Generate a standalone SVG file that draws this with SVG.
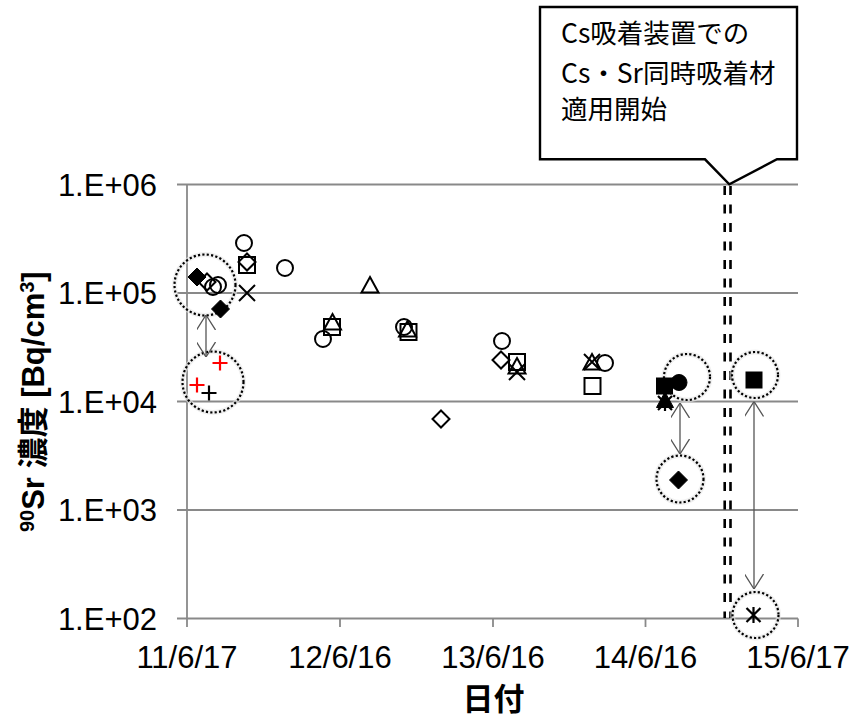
<svg xmlns="http://www.w3.org/2000/svg" xmlns:xlink="http://www.w3.org/1999/xlink" width="855" height="718" viewBox="0 0 855 718">
<style>
.grid{stroke:#898989;stroke-width:1.8;fill:none}
.tick{font-family:"Liberation Sans",Arial,sans-serif;font-size:31px;fill:#000}
.title{font-family:"Liberation Sans","Noto Sans CJK JP",sans-serif;font-size:31px;font-weight:bold;fill:#000}
.call{font-family:"Noto Sans CJK JP",sans-serif;font-size:26.5px;fill:#000}
.op{fill:none;stroke:#000;stroke-width:2}
.fl{fill:#000;stroke:#000;stroke-width:1}
.red{fill:none;stroke:#ff0000;stroke-width:2.2}
.blk{fill:none;stroke:#000;stroke-width:2.2}
.dot{fill:none;stroke:#000;stroke-width:2.2;stroke-dasharray:2.2 2.2}
.halo{fill:none;stroke:#e6e6e6;stroke-width:5;opacity:0.6}
.arr{stroke:#555;stroke-width:1.3;fill:none;marker-start:url(#ah);marker-end:url(#ah)}
.dash{stroke:#000;stroke-width:2.6;stroke-dasharray:9 9.5;fill:none}
</style>
<defs>
<marker id="ah" viewBox="0 0 15 19" refX="15" refY="9.5" markerWidth="15" markerHeight="19" markerUnits="userSpaceOnUse" orient="auto-start-reverse">
<path d="M0,0 L15,9.5 L0,19" fill="none" stroke="#555" stroke-width="1.3"/>
</marker>
<circle id="mc" r="8" class="op"/>
<rect id="ms" x="-8" y="-8" width="16" height="16" class="op"/>
<path id="mt" d="M0,-8 L8.5,7.5 L-8.5,7.5 Z" class="op"/>
<path id="md" d="M0,-8.5 L8.5,0 L0,8.5 L-8.5,0 Z" class="op"/>
<path id="mx" d="M-8,-8 L8,8 M8,-8 L-8,8" class="op"/>
<path id="mpr" d="M-7.5,0 L7.5,0 M0,-7.5 L0,7.5" class="red"/>
<path id="mpb" d="M-7.5,0 L7.5,0 M0,-7.5 L0,7.5" class="blk"/>
<path id="fd" d="M0,-9 L9,0 L0,9 L-9,0 Z" class="fl"/>
<rect id="fs" x="-8" y="-8" width="16" height="16" class="fl"/>
<circle id="fc" r="8" class="fl"/>
<path id="ft" d="M0,-8 L8.5,7.5 L-8.5,7.5 Z" class="fl"/>
<path id="ast" d="M-7,-7 L7,7 M7,-7 L-7,7 M0,-8 L0,8" fill="none" stroke="#000" stroke-width="2.2"/>
</defs>
<rect width="855" height="718" fill="#fff"/>

<g id="axes">
<line class="grid" x1="177" y1="184.5" x2="798" y2="184.5"/>
<line class="grid" x1="177" y1="293" x2="798" y2="293"/>
<line class="grid" x1="177" y1="401.5" x2="798" y2="401.5"/>
<line class="grid" x1="177" y1="510" x2="798" y2="510"/>
<line class="grid" x1="177" y1="618.5" x2="798" y2="618.5"/>
<line class="grid" x1="187" y1="184.5" x2="187" y2="627"/>
<line class="grid" x1="340" y1="618.5" x2="340" y2="627"/>
<line class="grid" x1="493" y1="618.5" x2="493" y2="627"/>
<line class="grid" x1="645.5" y1="618.5" x2="645.5" y2="627"/>
<line class="grid" x1="798" y1="618.5" x2="798" y2="627"/>
</g>

<g id="ylabels" class="tick" text-anchor="end">
<text x="157" y="195.5">1.E+06</text>
<text x="157" y="304">1.E+05</text>
<text x="157" y="412.5">1.E+04</text>
<text x="157" y="521">1.E+03</text>
<text x="157" y="629.5">1.E+02</text>
</g>
<g id="xlabels" class="tick" text-anchor="middle">
<text x="187" y="668">11/6/17</text>
<text x="340" y="668">12/6/16</text>
<text x="493" y="668">13/6/16</text>
<text x="645.5" y="668">14/6/16</text>
<text x="798" y="668">15/6/17</text>
</g>
<text id="xtitle" class="title" x="493.5" y="710" text-anchor="middle" font-size="30">日付</text>
<g id="ytitle" transform="translate(43.5,401.7) rotate(-90)">
<text class="title" x="0" y="0" text-anchor="middle"><tspan font-size="20" dy="-10">90</tspan><tspan dy="10">Sr 濃度 [Bq/cm</tspan><tspan font-size="20" dy="-10">3</tspan><tspan dy="10">]</tspan></text>
</g>

<g id="dashed-line">
<line class="dash" x1="724.7" y1="186" x2="724.7" y2="618"/>
<line class="dash" x1="730.5" y1="186" x2="730.5" y2="618"/>
</g>

<g id="callout">
<path d="M540,7 L797,7 L797,159.3 L777,159.3 L729.3,184.3 L705,159.3 L540,159.3 Z" fill="#fff" stroke="#000" stroke-width="2.4" stroke-linejoin="miter"/>
<text class="call" x="561" y="43">Cs吸着装置での</text>
<text class="call" x="561" y="83">Cs・Sr同時吸着材</text>
<text class="call" x="561" y="119">適用開始</text>
</g>

<g id="highlight-tl-high"><circle class="halo" cx="205" cy="285" r="30.5"/><circle class="dot" cx="205" cy="285" r="30.5"/></g>
<g id="highlight-tl-low"><circle class="halo" cx="213" cy="382" r="30.5"/><circle class="dot" cx="213" cy="382" r="30.5"/></g>
<g id="highlight-r1-high"><circle class="halo" cx="687" cy="377" r="23"/><circle class="dot" cx="687" cy="377" r="23"/></g>
<g id="highlight-r1-low"><circle class="halo" cx="680" cy="479" r="23.5"/><circle class="dot" cx="680" cy="479" r="23.5"/></g>
<g id="highlight-r2-high"><circle class="halo" cx="755" cy="375" r="23"/><circle class="dot" cx="755" cy="375" r="23"/></g>
<g id="highlight-r2-low"><circle class="halo" cx="755.5" cy="615" r="23"/><circle class="dot" cx="755.5" cy="615" r="23"/></g>

<g id="series">
<use href="#fd" x="197" y="277"/>
<use href="#md" x="207" y="282"/>
<use href="#mc" x="213" y="287"/>
<use href="#mc" x="218" y="285"/>
<use href="#fd" x="220.5" y="309"/>
<use href="#mc" x="244" y="243"/>
<use href="#md" x="247" y="262"/>
<use href="#ms" x="247" y="265"/>
<use href="#mx" x="247" y="293"/>
<use href="#mc" x="285" y="268"/>
<use href="#mpr" x="220" y="363"/>
<use href="#mpr" x="197" y="385"/>
<use href="#mpb" x="209" y="393"/>
<use href="#mt" x="370" y="285"/>
<use href="#ms" x="332" y="327"/>
<use href="#mt" x="332.5" y="322"/>
<use href="#mc" x="323" y="339"/>
<use href="#mc" x="404" y="327"/>
<use href="#mt" x="407.5" y="329"/>
<use href="#ms" x="408.5" y="332"/>
<use href="#md" x="441" y="419"/>
<use href="#mc" x="502" y="341"/>
<use href="#md" x="501" y="360"/>
<use href="#ms" x="517" y="362"/>
<use href="#mt" x="517" y="366"/>
<use href="#mx" x="517" y="372"/>
<use href="#mx" x="592" y="362"/>
<use href="#mt" x="592" y="362"/>
<use href="#mc" x="605" y="363"/>
<use href="#ms" x="592.5" y="386"/>
<use href="#fs" x="664.5" y="386"/>
<use href="#fc" x="679" y="382.5"/>
<use href="#ft" x="665" y="400"/>
<use href="#ast" x="665" y="403"/>
<use href="#fd" x="678.5" y="480"/>
<use href="#fs" x="754" y="380"/>
<use href="#ast" x="753.5" y="615"/>
</g>

<g id="connectors">
<line class="arr" x1="206" y1="315" x2="206" y2="357"/>
<line class="arr" x1="680" y1="403" x2="680" y2="454"/>
<line class="arr" x1="754" y1="401.5" x2="754" y2="589"/>
</g>
</svg>
